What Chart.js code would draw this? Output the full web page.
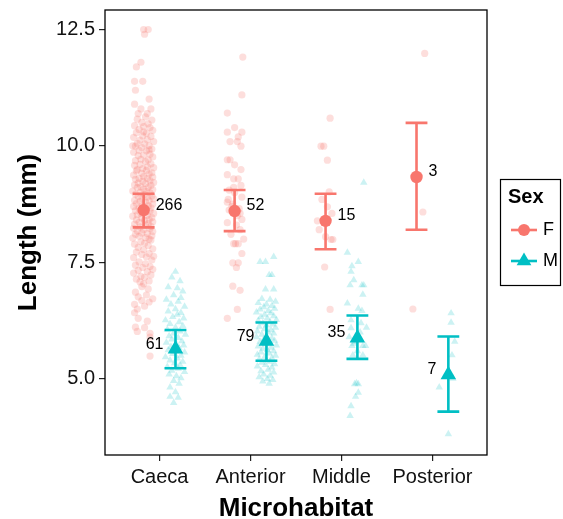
<!DOCTYPE html>
<html>
<head>
<meta charset="utf-8">
<script src="https://cdn.jsdelivr.net/npm/chart.js@4.4.1/dist/chart.umd.min.js"></script>
<style>
  html, body { margin: 0; padding: 0; background: #fff; }
  #wrap { width: 563px; height: 519px; }
</style>
</head>
<body>
<div id="wrap"><canvas id="lengthChart" width="563" height="519"></canvas></div>
<script>
// categories / groups
const categories = ['Caeca', 'Anterior', 'Middle', 'Posterior'];
const sexes = ['F', 'M'];
const yTicks = [5.0, 7.5, 10.0, 12.5];

// means and error bar ends
const meanF = [8.62, 8.60, 8.39, 9.33];
const lowF  = [8.25, 8.17, 7.78, 8.20];
const highF = [8.97, 9.05, 8.97, 10.49];
const meanM = [5.64, 5.81, 5.88, 5.09];
const lowM  = [5.23, 5.39, 5.43, 4.30];
const highM = [6.05, 6.21, 6.36, 5.91];

// sample sizes printed next to the means
const countF = [266, 52, 15, 3];
const countM = [61, 79, 35, 7];

// raw (jittered) observations: [jitter offset, length]
const caecaF = [
  [0.0,12.49],[0.05,12.49],[0.01,12.39],[-0.03,11.79],[-0.08,11.69],[-0.1,11.38],[-0.01,11.38],[-0.09,11.19],
  [0.06,11.0],[-0.1,10.89],[-0.03,10.79],[0.08,10.79],[-0.06,10.69],[0.04,10.69],
  [0.02,10.62],[-0.07,10.57],[0.09,10.55],[-0.02,10.5],[0.05,10.47],[-0.1,10.43],[0.0,10.41],[0.07,10.39],
  [-0.05,10.35],[0.1,10.33],[-0.08,10.28],[0.03,10.27],[-0.01,10.21],[0.08,10.2],[-0.11,10.18],[0.04,10.13],
  [-0.04,10.12],[0.11,10.09],[-0.07,10.05],[0.01,10.04],[0.06,10.0],[-0.09,9.99],[-0.02,9.96],[0.09,9.93],
  [-0.05,9.9],[0.03,9.89],[-0.11,9.86],[0.07,9.82],[0.0,9.8],[-0.06,9.79],[0.1,9.76],[-0.03,9.71],
  [0.05,9.7],[-0.09,9.68],[0.02,9.66],[0.08,9.61],[-0.04,9.6],[-0.1,9.58],[0.04,9.55],[0.11,9.53],
  [-0.01,9.51],[-0.07,9.49],[0.06,9.91],[-0.12,10.0],[0.0,10.3],
  [0.03,9.47],[-0.08,9.46],[0.09,9.42],[-0.02,9.41],[0.06,9.4],[-0.11,9.37],[0.0,9.34],[0.1,9.33],
  [-0.05,9.3],[0.04,9.3],[-0.09,9.28],[0.07,9.25],[-0.01,9.24],[0.11,9.21],[-0.06,9.2],[0.02,9.19],
  [-0.1,9.16],[0.08,9.15],[-0.03,9.12],[0.05,9.11],[-0.07,9.1],[0.0,9.07],[0.1,9.06],[-0.12,9.03],
  [0.03,9.02],[-0.04,9.0],[0.07,8.99],[-0.09,8.96],[0.01,8.95],[0.09,8.92],[-0.06,8.91],[0.04,8.9],
  [-0.02,8.87],[0.11,8.86],[-0.1,8.83],[0.06,8.82],[-0.04,8.8],[0.02,8.79],[-0.08,8.76],[0.1,8.75],
  [-0.01,8.72],[0.05,8.71],[-0.11,8.7],[0.08,8.67],[-0.05,8.66],[0.0,8.64],[-0.09,8.61],[0.07,8.6],
  [0.03,8.58],[-0.03,8.55],[0.11,8.55],[-0.07,8.52],[0.04,8.51],[-0.12,8.49],[0.09,8.46],[-0.02,8.45],
  [0.06,8.42],[-0.08,8.41],[0.01,8.4],[0.1,8.37],[-0.05,8.36],[0.05,8.33],[-0.1,8.32],[0.02,8.3],
  [0.08,8.27],[-0.04,8.26],[-0.11,8.23],[0.07,8.22],[0.0,8.2],[-0.07,8.17],[0.1,8.16],[-0.02,8.13],
  [0.04,8.12],[-0.09,8.1],[0.09,8.07],[-0.05,8.06],[0.02,8.03],[-0.12,8.02],[0.06,8.0],
  [0.08,7.98],[-0.03,7.94],[0.01,7.91],[-0.1,7.89],[0.05,7.86],[-0.06,7.82],[0.1,7.79],[0.0,7.77],
  [-0.08,7.72],[0.06,7.69],[-0.02,7.67],[0.11,7.63],[-0.11,7.6],[0.03,7.62],[0.09,7.55],[-0.05,7.51],
  [0.02,7.47],[-0.09,7.44],[0.07,7.41],[-0.01,7.39],[0.1,7.35],[-0.06,7.33],[0.04,7.3],[-0.11,7.27],
  [0.08,7.23],[-0.03,7.2],[0.01,7.18],[-0.08,7.14],[0.06,7.1],[-0.04,7.08],[0.0,7.04],
  [-0.02,6.98],[0.05,6.93],[-0.09,6.86],[0.03,6.8],[-0.06,6.76],[0.1,6.72],[-0.02,6.68],[0.06,6.65],
  [-0.1,6.6],[0.01,6.56],[-0.07,6.5],[-0.1,6.42],[-0.06,6.3],[0.04,6.24],[-0.09,6.11],[0.01,6.1],
  [-0.07,6.02],[0.07,5.98],[0.07,5.9],[0.07,5.49]
];
const caecaM = [
  [0.0,7.3],[-0.04,7.18],[0.05,7.1],[-0.08,6.97],[0.02,6.95],[0.08,6.88],[-0.02,6.8],[0.06,6.74],
  [-0.1,6.7],[0.03,6.66],[-0.05,6.6],[0.1,6.55],[0.0,6.5],[-0.08,6.45],[0.06,6.42],[0.02,6.38],
  [-0.03,6.33],[0.09,6.3],[-0.11,6.26],[0.04,6.22],[-0.06,6.18],[0.08,6.14],[0.0,6.1],[-0.09,6.06],
  [0.05,6.02],[-0.02,5.98],[0.11,5.95],[-0.07,5.92],[0.03,5.88],[-0.04,5.85],[0.07,5.81],[-0.1,5.78],
  [0.01,5.75],[0.09,5.72],[-0.05,5.69],[0.04,5.66],[-0.08,5.62],[0.0,5.6],[0.1,5.57],[-0.03,5.54],
  [0.06,5.5],[-0.11,5.47],[0.02,5.44],[-0.06,5.4],[0.08,5.37],[-0.01,5.34],[0.05,5.3],[-0.09,5.26],
  [0.03,5.22],[-0.04,5.18],[0.1,5.15],[-0.07,5.1],[0.01,5.06],[0.06,5.02],[-0.02,4.96],[0.04,4.9],
  [-0.06,4.82],[0.0,4.72],[-0.06,4.62],[0.03,4.6],[-0.02,4.49]
];
const anteriorF = [
  [0.09,11.9],[0.08,11.09],[-0.08,10.7],[-0.08,10.29],[0.0,10.39],[0.08,10.29],[0.04,10.19],[-0.05,10.09],
  [0.03,10.09],[0.07,9.99],[-0.08,9.7],[-0.05,9.7],[0.0,9.59],[0.07,9.49],[-0.08,9.38],[-0.01,9.29],
  [0.04,9.29],[-0.01,9.11],[0.08,8.9],[-0.08,8.79],[-0.06,8.62],[0.06,8.55],[-0.07,8.85],[-0.03,8.7],
  [0.03,8.5],[0.08,8.42],[-0.08,8.35],[0.02,8.3],[-0.02,8.75],[0.05,8.65],[0.06,8.2],[-0.04,8.1],
  [0.0,9.0],[-0.06,9.05],[0.07,9.15],[0.1,8.0],
  [-0.01,7.9],[0.04,7.9],[0.01,7.9],[0.08,7.69],[-0.02,7.49],[0.04,7.49],[0.02,7.39],[-0.02,6.99],
  [0.06,6.9],[0.03,6.49],[-0.08,6.3]
];
const anteriorM = [
  [0.08,7.62],[-0.07,7.51],[-0.01,7.51],[0.03,7.23],[0.06,7.23],[-0.01,6.92],[0.08,6.92],
  [-0.05,6.72],[0.04,6.7],[0.1,6.66],[-0.09,6.63],[0.0,6.6],[0.06,6.57],[-0.03,6.54],[0.09,6.51],
  [-0.07,6.49],[0.02,6.46],[-0.11,6.43],[0.05,6.41],[-0.02,6.38],[0.08,6.35],[-0.06,6.33],[0.01,6.3],
  [0.11,6.27],[-0.09,6.25],[0.04,6.22],[-0.04,6.2],[0.07,6.17],[0.0,6.15],[-0.08,6.12],[0.1,6.1],
  [-0.02,6.07],[0.05,6.05],[-0.1,6.02],[0.02,6.0],[0.08,5.98],[-0.05,5.95],[0.0,5.92],[-0.11,5.9],
  [0.06,5.87],[-0.03,5.85],[0.09,5.82],[-0.07,5.8],[0.03,5.77],[-0.01,5.75],[0.11,5.72],[-0.09,5.7],
  [0.05,5.67],[-0.04,5.65],[0.01,5.62],[0.08,5.6],[-0.06,5.57],[0.03,5.55],[-0.1,5.52],[0.1,5.5],
  [-0.02,5.47],[0.06,5.45],[-0.08,5.42],[0.0,5.4],[0.04,5.37],[-0.05,5.35],[0.09,5.32],[-0.01,5.3],
  [-0.1,5.27],[0.06,5.25],[0.02,5.2],[-0.06,5.17],[0.08,5.14],[-0.03,5.1],[0.04,5.07],[-0.08,5.04],
  [0.01,5.0],[0.07,4.98],[-0.04,4.95],[0.03,4.9]
];
const middleF = [
  [0.05,10.59],[-0.05,9.99],[-0.02,9.99],[0.02,9.69],[0.04,9.01],[0.02,8.69],[-0.09,8.39],[0.06,7.99],
  [0.08,7.99],[-0.01,7.4],[0.05,6.49],[-0.04,8.85],[0.07,8.55],[-0.07,8.2],[0.0,8.05]
];
const middleM = [
  [0.07,9.21],[-0.11,7.71],[0.01,7.51],[-0.06,7.42],[-0.07,7.3],[-0.04,7.12],[-0.08,7.01],[0.05,7.01],
  [0.07,7.01],[0.06,6.81],[-0.11,6.62],[0.01,6.51],[0.05,6.46],[-0.07,6.26],[0.1,6.1],[-0.07,6.09],
  [-0.09,5.9],[-0.01,5.9],[-0.04,5.76],[0.06,5.71],[0.09,5.71],[-0.06,5.71],[-0.05,5.51],[0.06,5.51],
  [-0.01,4.91],[-0.03,4.89],[0.01,4.89],[0.01,4.71],[-0.02,4.62],[-0.07,4.42],[-0.08,4.21],[0.03,6.0],
  [0.0,5.6],[0.04,6.2],[-0.02,5.8]
];
const posteriorF = [[0.09,11.98],[0.07,8.58],[-0.04,6.5]];
const posteriorM = [[0.03,6.41],[0.03,6.21],[0.07,5.8],[0.04,5.51],[0.05,5.01],[-0.1,4.82],[0.0,3.82]];

const rawF = [caecaF, anteriorF, middleF, posteriorF];
const rawM = [caecaM, anteriorM, middleM, posteriorM];

const colF = '#F8766D';
const colM = '#00BFC4';
const dodge = 0.175;
const capHalf = 0.12;
const fontFamily = "'Liberation Sans', Arial, Helvetica, sans-serif";

// turn raw observations into scatter points on the category axis
function toPoints(groups, shift) {
  const out = [];
  groups.forEach((g, i) => g.forEach(p => out.push({ x: i + shift + p[0], y: p[1] })));
  return out;
}

const extras = {
  id: 'extras',
  beforeDatasetDraw(chart, args) {
    // error bars go after the raw points and under the mean points
    if (args.index !== 3) return;
    const ctx = chart.ctx, xs = chart.scales.x, ys = chart.scales.y;
    ctx.save();
    ctx.lineWidth = 2.6;
    ctx.lineCap = 'butt';
    [[lowF, highF, colF, -dodge], [lowM, highM, colM, dodge]].forEach(([lo, hi, col, d]) => {
      ctx.strokeStyle = col;
      categories.forEach((c, i) => {
        const x = xs.getPixelForValue(i + d);
        const xl = xs.getPixelForValue(i + d - capHalf);
        const xr = xs.getPixelForValue(i + d + capHalf);
        const y1 = ys.getPixelForValue(lo[i]);
        const y2 = ys.getPixelForValue(hi[i]);
        ctx.beginPath();
        ctx.moveTo(x, y1); ctx.lineTo(x, y2);
        ctx.moveTo(xl, y1); ctx.lineTo(xr, y1);
        ctx.moveTo(xl, y2); ctx.lineTo(xr, y2);
        ctx.stroke();
      });
    });
    ctx.restore();
  },
  afterDatasetsDraw(chart) {
    const ctx = chart.ctx, xs = chart.scales.x, ys = chart.scales.y;
    ctx.save();
    ctx.font = '16px ' + fontFamily;
    ctx.fillStyle = '#000';
    ctx.textBaseline = 'middle';
    categories.forEach((c, i) => {
      ctx.textAlign = 'left';
      ctx.fillText(String(countF[i]), xs.getPixelForValue(i - dodge) + 12, ys.getPixelForValue(meanF[i]) - 5);
      ctx.textAlign = 'right';
      ctx.fillText(String(countM[i]), xs.getPixelForValue(i + dodge) - 12, ys.getPixelForValue(meanM[i]) - 5);
    });
    ctx.restore();
  },
  afterDraw(chart) {
    const ctx = chart.ctx, a = chart.chartArea;
    ctx.save();
    // panel border
    ctx.strokeStyle = '#000';
    ctx.lineWidth = 1.3;
    ctx.strokeRect(a.left, a.top, a.right - a.left, a.bottom - a.top);

    // legend
    const lx = a.right + 13, ly = 179;
    ctx.lineWidth = 1.2;
    ctx.strokeRect(lx + 0.5, ly + 0.5, 60, 106);
    ctx.fillStyle = '#000';
    ctx.textBaseline = 'middle';
    ctx.textAlign = 'left';
    ctx.font = 'bold 20px ' + fontFamily;
    ctx.fillText('Sex', lx + 8, ly + 18);
    ctx.font = '18px ' + fontFamily;
    const rows = [[sexes[0], colF, ly + 51], [sexes[1], colM, ly + 82]];
    rows.forEach(([name, col, y], k) => {
      ctx.strokeStyle = col;
      ctx.lineWidth = 2.6;
      ctx.beginPath();
      ctx.moveTo(lx + 11, y); ctx.lineTo(lx + 37, y);
      ctx.stroke();
      ctx.fillStyle = col;
      ctx.beginPath();
      if (k === 0) {
        ctx.arc(lx + 24, y, 6, 0, Math.PI * 2);
      } else {
        const r = 8.5;
        ctx.moveTo(lx + 24, y - r);
        ctx.lineTo(lx + 24 + r * 0.866, y + r / 2);
        ctx.lineTo(lx + 24 - r * 0.866, y + r / 2);
        ctx.closePath();
      }
      ctx.fill();
      ctx.fillStyle = '#000';
      ctx.fillText(name, lx + 43, y);
    });
    ctx.restore();
  }
};

new Chart(document.getElementById('lengthChart'), {
  type: 'scatter',
  data: {
    datasets: [
      {
        label: 'F obs',
        data: toPoints(rawF, -dodge),
        pointStyle: 'circle',
        pointRadius: 3.6,
        borderWidth: 0,
        backgroundColor: 'rgba(248,118,109,0.24)',
        order: 3
      },
      {
        label: 'M obs',
        data: toPoints(rawM, dodge),
        pointStyle: 'triangle',
        pointRadius: 4.3,
        borderWidth: 0,
        backgroundColor: 'rgba(0,191,196,0.2)',
        order: 4
      },
      {
        label: 'F',
        data: meanF.map((m, i) => ({ x: i - dodge, y: m })),
        pointStyle: 'circle',
        pointRadius: 6.2,
        borderWidth: 0,
        backgroundColor: colF,
        order: 1
      },
      {
        label: 'M',
        data: meanM.map((m, i) => ({ x: i + dodge, y: m })),
        pointStyle: 'triangle',
        pointRadius: 9,
        borderWidth: 0,
        backgroundColor: colM,
        order: 2
      }
    ]
  },
  options: {
    responsive: false,
    animation: false,
    events: [],
    layout: { padding: { top: 10, right: 76, bottom: 0, left: 0 } },
    plugins: {
      legend: { display: false },
      tooltip: { enabled: false }
    },
    scales: {
      x: {
        type: 'linear',
        min: -0.6,
        max: 3.6,
        afterBuildTicks: s => { s.ticks = categories.map((c, i) => ({ value: i })); },
        afterFit: s => { s.height = 64; s.paddingLeft = 0; s.paddingRight = 0; },
        ticks: {
          callback: v => categories[v],
          font: { size: 20, family: fontFamily },
          color: '#111',
          padding: 4,
          maxRotation: 0,
          autoSkip: false
        },
        grid: { drawOnChartArea: false, drawTicks: true, tickLength: 6, color: '#222', lineWidth: 1.2 },
        border: { display: false },
        title: {
          display: true,
          text: 'Microhabitat',
          color: '#000',
          font: { size: 26, weight: 'bold', family: fontFamily, lineHeight: 0.8 },
          padding: { top: 0, bottom: 0 }
        }
      },
      y: {
        min: 3.37,
        max: 12.91,
        afterBuildTicks: s => { s.ticks = yTicks.map(v => ({ value: v })); },
        afterFit: s => { s.width = 105; s.paddingTop = 0; s.paddingBottom = 0; },
        ticks: {
          callback: v => Number(v).toFixed(1),
          font: { size: 20, family: fontFamily },
          color: '#111',
          padding: 4
        },
        grid: { drawOnChartArea: false, drawTicks: true, tickLength: 6, color: '#222', lineWidth: 1.2 },
        border: { display: false },
        title: {
          display: true,
          text: 'Length (mm)',
          color: '#000',
          font: { size: 26, weight: 'bold', family: fontFamily, lineHeight: 0.8 },
          padding: { top: 18, bottom: 0 }
        }
      }
    }
  },
  plugins: [extras]
});
</script>
</body>
</html>
